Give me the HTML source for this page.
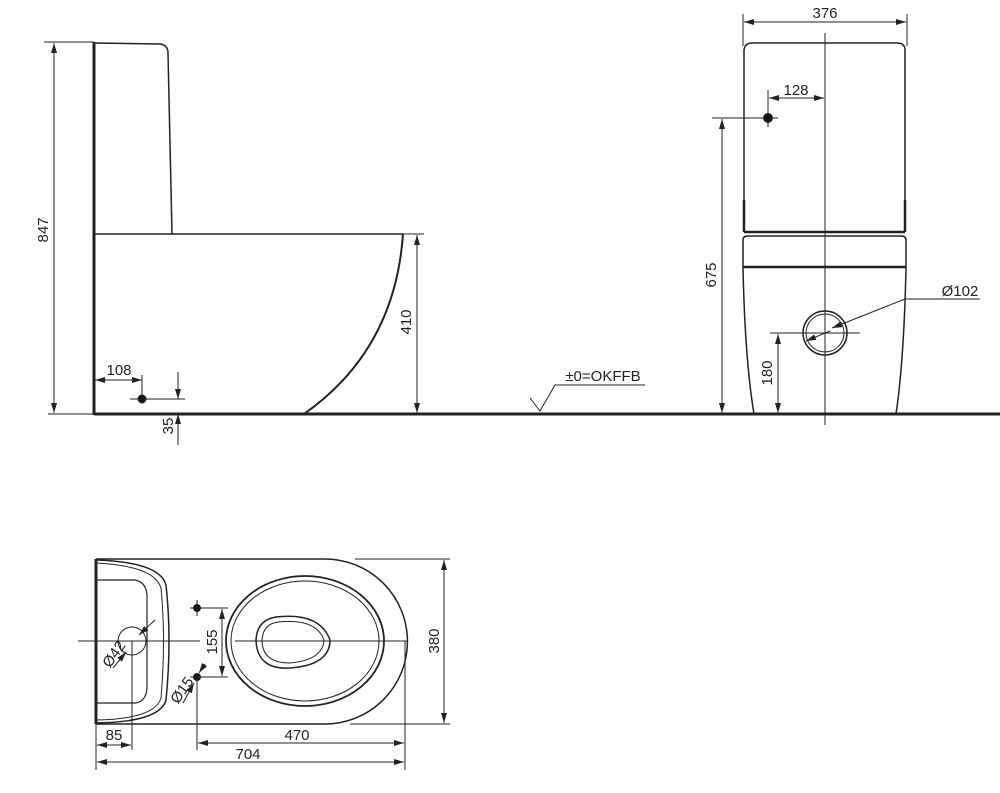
<!DOCTYPE html>
<html><head><meta charset="utf-8"><style>
html,body{margin:0;padding:0;background:#fff;}
svg{display:block;}
text{font-family:"Liberation Sans",Arial,sans-serif;font-size:15px;fill:#222;}
</style></head><body>
<svg width="1000" height="793" viewBox="0 0 1000 793" xmlns="http://www.w3.org/2000/svg">
<defs>
<marker id="a" viewBox="0 0 10 6" refX="10" refY="3" markerWidth="10" markerHeight="6" orient="auto-start-reverse" markerUnits="userSpaceOnUse"><path d="M0,0 L10,3 L0,6 Z" fill="#222"/></marker>
</defs>
<g stroke="#222" fill="none" stroke-width="1">
<!-- SIDE VIEW -->
<line x1="94" y1="42" x2="94" y2="415" stroke-width="3"/>
<line x1="94" y1="414" x2="1000" y2="414" stroke-width="3"/>
<path d="M95,43 L160,44 Q168,45 168,53 L172,234" stroke-width="1.5"/>
<line x1="95" y1="234" x2="403" y2="234" stroke-width="1.5"/>
<path d="M403,234 Q395,350 304,414" stroke-width="2"/>
<!-- 847 -->
<line x1="44" y1="42" x2="94" y2="42"/>
<line x1="48" y1="414" x2="94" y2="414"/>
<line x1="54" y1="43" x2="54" y2="413" marker-start="url(#a)" marker-end="url(#a)"/>
<!-- 410 -->
<line x1="403" y1="234" x2="424" y2="234"/>
<line x1="417" y1="235" x2="417" y2="413" marker-start="url(#a)" marker-end="url(#a)"/>
<!-- 108 -->
<line x1="95" y1="380" x2="142" y2="380" marker-start="url(#a)" marker-end="url(#a)"/>
<line x1="142" y1="375" x2="142" y2="400"/>
<circle cx="142" cy="399" r="4" fill="#111"/>
<line x1="130" y1="399" x2="185" y2="399"/>
<line x1="178" y1="372" x2="178" y2="399" marker-end="url(#a)"/>
<line x1="178" y1="445" x2="178" y2="414" marker-end="url(#a)"/>
<!-- level symbol -->
<path d="M530,398 L540,411 L555,385 L645,385"/>
<!-- FRONT VIEW -->
<path d="M744,232 L744,50 Q745,43 752,43 L897,43 Q905,43 905,50 L905,232" stroke-width="1.5"/>
<line x1="744" y1="200" x2="744" y2="232" stroke-width="2.5"/>
<line x1="905" y1="200" x2="905" y2="232" stroke-width="2.5"/>
<line x1="744" y1="232" x2="905" y2="232" stroke-width="2.5"/>
<path d="M743,268 L743,240 Q743,236 748,236 L901,236 Q906,236 906,240 L906,268" stroke-width="1.5"/>
<line x1="743" y1="267" x2="906" y2="267" stroke-width="2.5"/>
<path d="M743,268 Q745,360 754,414" stroke-width="1.5"/>
<path d="M906,268 Q904,360 896,414" stroke-width="1.5"/>
<line x1="825" y1="33" x2="825" y2="425"/>
<!-- 376 -->
<line x1="743" y1="14" x2="743" y2="46"/>
<line x1="907" y1="14" x2="907" y2="46"/>
<line x1="744" y1="22" x2="906" y2="22" marker-start="url(#a)" marker-end="url(#a)"/>
<!-- 128 -->
<line x1="768" y1="90" x2="768" y2="127"/>
<line x1="769" y1="98" x2="824" y2="98" marker-start="url(#a)" marker-end="url(#a)"/>
<circle cx="768" cy="118" r="4.5" fill="#111"/>
<line x1="712" y1="118" x2="778" y2="118"/>
<!-- 675 -->
<line x1="722" y1="119" x2="722" y2="413" marker-start="url(#a)" marker-end="url(#a)"/>
<!-- circle -->
<circle cx="825" cy="333" r="22" stroke-width="1.5"/>
<circle cx="825" cy="333" r="19"/>
<line x1="770" y1="333" x2="860" y2="333"/>
<line x1="830" y1="331" x2="806" y2="341" marker-end="url(#a)"/>
<line x1="905" y1="299" x2="832" y2="328" marker-end="url(#a)"/>
<line x1="905" y1="299" x2="980" y2="299"/>
<!-- 180 -->
<line x1="778" y1="334" x2="778" y2="413" marker-start="url(#a)" marker-end="url(#a)"/>
<!-- PLAN VIEW -->
<path d="M96,559 L325,559 A82 82 0 0 1 325,724 L96,724" stroke-width="1.5"/>
<line x1="96" y1="559" x2="96" y2="724" stroke-width="3"/>
<path d="M96,560 Q160,562 166,585 Q172,640 166,700 Q160,722 96,723" stroke-width="1.5"/>
<path d="M96,563 Q155,566 161,588 Q166,640 161,698 Q155,719 96,720"/>
<path d="M96,580 L135,580 Q146,582 147,595 L147,688 Q146,702 135,703 L96,703" stroke-width="1.2"/>
<ellipse cx="305" cy="641" rx="79" ry="65" stroke-width="1.8"/>
<ellipse cx="305" cy="641" rx="74" ry="60"/>
<path d="M276,617 Q320,612 330,640 Q330,665 290,668 Q257,670 256,640 Q257,620 276,617 Z" stroke-width="1.5"/>
<path d="M278,622 Q316,618 324,640 Q323,660 290,663 Q262,663 262,640 Q263,624 278,622 Z"/>
<line x1="78" y1="641" x2="200" y2="641"/>
<line x1="235" y1="641" x2="408" y2="641"/>
<circle cx="132" cy="641" r="14"/>
<line x1="155" y1="620" x2="139" y2="635" marker-end="url(#a)"/>
<line x1="113" y1="668" x2="126" y2="652" marker-end="url(#a)"/>
<!-- dots & 155 -->
<circle cx="197" cy="608" r="3.5" fill="#111"/>
<circle cx="197" cy="677" r="3.5" fill="#111"/>
<line x1="190" y1="608" x2="228" y2="608"/>
<line x1="190" y1="677" x2="228" y2="677"/>
<line x1="197" y1="600" x2="197" y2="616"/>
<line x1="222" y1="609" x2="222" y2="676" marker-start="url(#a)" marker-end="url(#a)"/>
<line x1="205" y1="664" x2="199" y2="673" marker-end="url(#a)"/>
<line x1="183" y1="703" x2="194" y2="683" marker-end="url(#a)"/>
<!-- 380 -->
<line x1="355" y1="559" x2="450" y2="559"/>
<line x1="350" y1="724" x2="450" y2="724"/>
<line x1="444" y1="560" x2="444" y2="723" marker-start="url(#a)" marker-end="url(#a)"/>
<!-- bottom dims -->
<line x1="96" y1="724" x2="96" y2="770"/>
<line x1="132" y1="641" x2="132" y2="750"/>
<line x1="197" y1="677" x2="197" y2="750"/>
<line x1="405" y1="641" x2="405" y2="770"/>
<line x1="97" y1="745" x2="131" y2="745" marker-start="url(#a)" marker-end="url(#a)"/>
<line x1="198" y1="743" x2="404" y2="743" marker-start="url(#a)" marker-end="url(#a)"/>
<line x1="97" y1="762" x2="404" y2="762" marker-start="url(#a)" marker-end="url(#a)"/>
</g>
<text x="48" y="230" text-anchor="middle" transform="rotate(-90 48 230)">847</text>
<text x="411" y="322" text-anchor="middle" transform="rotate(-90 411 322)">410</text>
<text x="119" y="375" text-anchor="middle">108</text>
<text x="179" y="432" text-anchor="middle" transform="rotate(-90 173 432)">35</text>
<text x="603" y="381" text-anchor="middle">±0=OKFFB</text>
<text x="825" y="18" text-anchor="middle">376</text>
<text x="796" y="95" text-anchor="middle">128</text>
<text x="716" y="275" text-anchor="middle" transform="rotate(-90 716 275)">675</text>
<text x="960" y="296" text-anchor="middle">Ø102</text>
<text x="772" y="373" text-anchor="middle" transform="rotate(-90 772 373)">180</text>
<text x="217" y="642" text-anchor="middle" transform="rotate(-90 217 642)">155</text>
<text x="439" y="641" text-anchor="middle" transform="rotate(-90 439 641)">380</text>
<text x="118" y="657" text-anchor="middle" transform="rotate(-55 118 657)">Ø42</text>
<text x="186" y="693" text-anchor="middle" transform="rotate(-55 186 693)">Ø15</text>
<text x="114" y="740" text-anchor="middle">85</text>
<text x="297" y="740" text-anchor="middle">470</text>
<text x="248" y="759" text-anchor="middle">704</text>
</svg>
</body></html>
